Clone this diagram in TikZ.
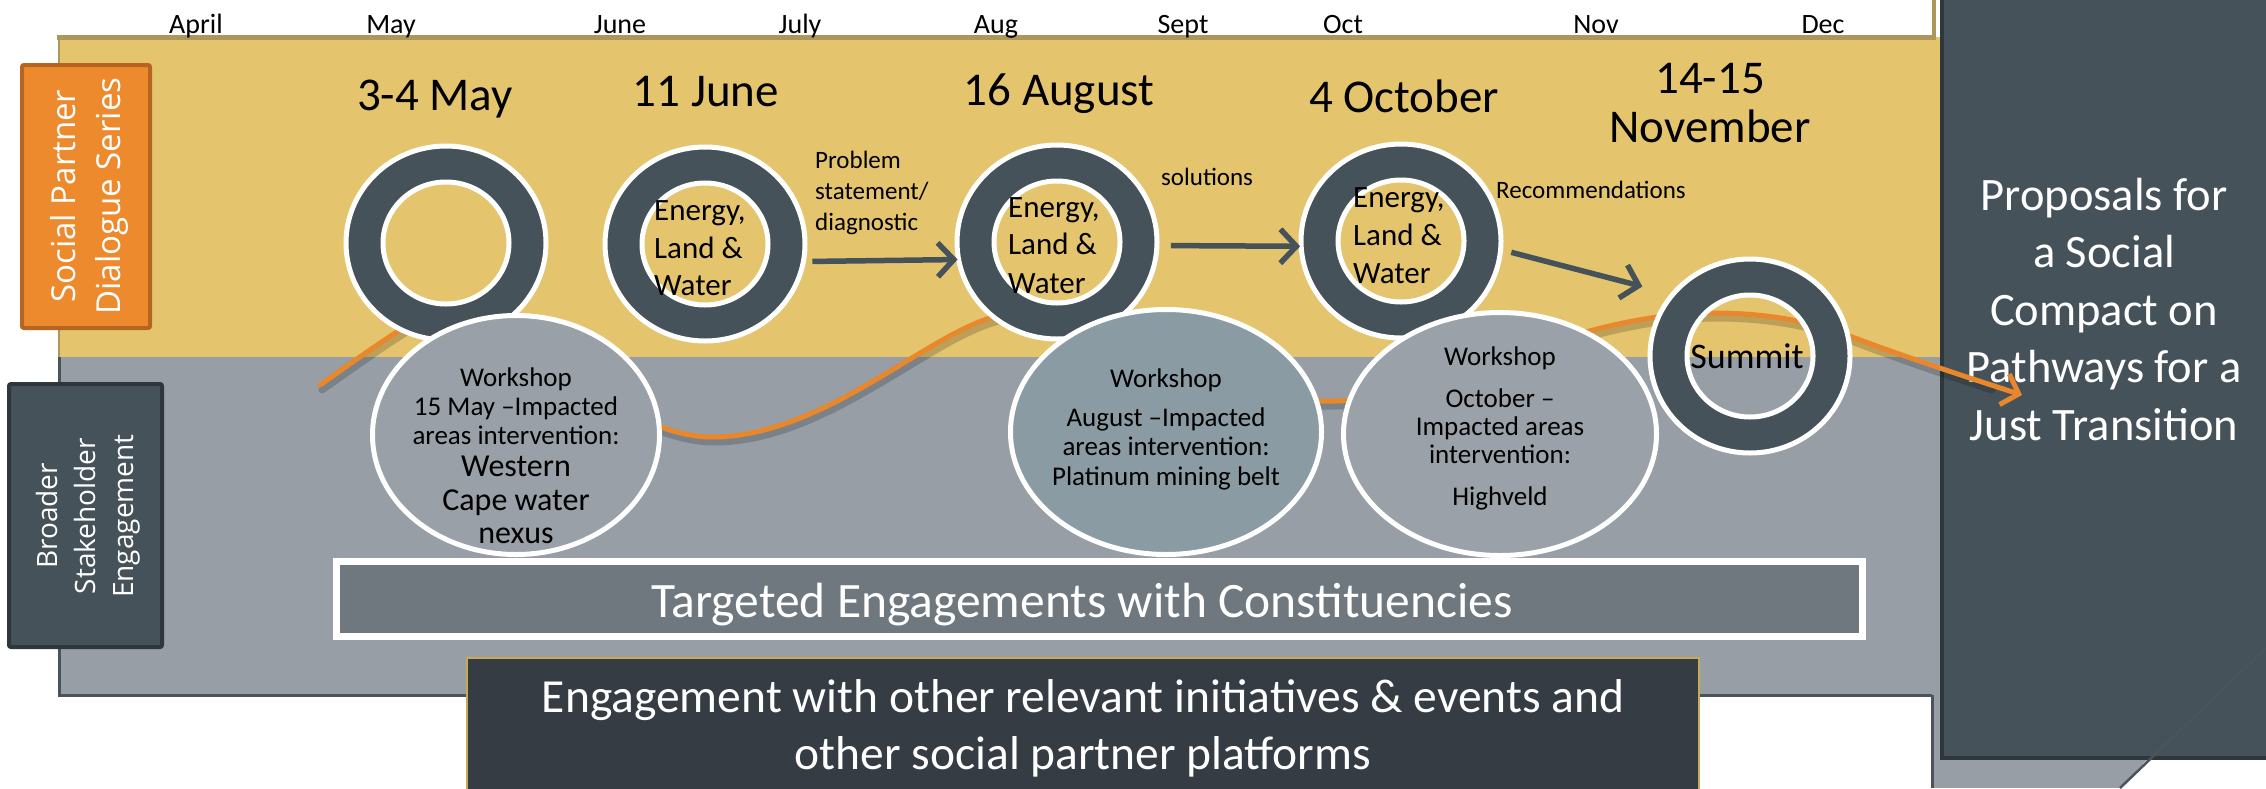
\documentclass[tikz,border=0pt]{standalone}
\usepackage{fontspec}
\setmainfont{Carlito}
\newfontfamily\osans{Open Sans}
\usetikzlibrary{arrows.meta,shapes.geometric}
\definecolor{yel}{HTML}{E5C46E}
\definecolor{tanb}{HTML}{AD965A}
\definecolor{gpanel}{HTML}{979EA6}
\definecolor{gborder}{HTML}{4B545A}
\definecolor{slate}{HTML}{465259}
\definecolor{slatedark}{HTML}{2F373C}
\definecolor{ellA}{HTML}{99A0A8}
\definecolor{ellB}{HTML}{8A9BA3}
\definecolor{ellC}{HTML}{9AA1A9}
\definecolor{tgt}{HTML}{6E787E}
\definecolor{bbox}{HTML}{353C43}
\definecolor{bboxb}{HTML}{C8A955}
\definecolor{orng}{HTML}{E8872B}
\definecolor{obox}{HTML}{EE8A2E}
\definecolor{oboxb}{HTML}{B5651F}
\newcommand\fsz[1]{\fontsize{#1}{#1}\selectfont}
\newcommand\ringdraw[1]{%
  \fill[slate, even odd rule] (#1.center) ellipse [x radius=100pt, y radius=97pt]
        (#1.center) ellipse [x radius=63pt, y radius=61pt];
  \draw[white, line width=5pt] (#1.center) ellipse [x radius=100pt, y radius=97pt]
        (#1.center) ellipse [x radius=63pt, y radius=61pt];}
\begin{document}
\begin{tikzpicture}[x=1pt,y=-1pt,
  month/.style={anchor=base, font=\fsz{28}, text=black, inner sep=0pt},
  datelbl/.style={anchor=base, font=\fsz{47}, text=black, inner sep=0pt},
  ringnode/.style={circle, minimum size=202pt, inner sep=0pt, outer sep=0pt},
  ringtxt/.style={anchor=base west, font=\fsz{31}, text=black, inner sep=0pt},
  wsell/.style={ellipse, draw=white, line width=5pt, inner sep=0pt, outer sep=0pt},
  wstxt/.style={anchor=base, font=\fsz{27}, text=black, inner sep=0pt},
  wsbig/.style={anchor=base, font=\fsz{32}, text=black, inner sep=0pt},
  small/.style={anchor=base west, font=\fsz{25}, text=black, inner sep=0pt},
  darrow/.style={draw=slate, line width=5.5pt, -{Straight Barb[length=16pt,width=34pt]}},
  proptxt/.style={anchor=base, font=\fsz{46.5}, text=white, inner sep=0pt},
  bigtxt/.style={anchor=base, font=\fsz{47.5}, text=white, inner sep=0pt}]
\useasboundingbox (0,0) rectangle (2266,788);
\fill[white] (0,0) rectangle (2266,788);
% right gray strip
\fill[gpanel] (1932,357) rectangle (2266,788);
\draw[gborder, line width=3pt] (1932,695) -- (1932,788);
% month strip border
\draw[tanb, line width=4pt] (1934,0) -- (1934,37);
% yellow panel
\fill[yel] (59,37) rectangle (1940,357);
\draw[tanb, line width=5pt] (57,37) -- (1936,37);
\draw[tanb, line width=2.5pt] (59,37) -- (59,357);
% gray panel
\fill[gpanel] (59,357) rectangle (1940,695);
\draw[gborder, line width=3pt] (59,357) -- (59,695) -- (1932,695);
% months
\foreach \m/\x [count=\i] in {April/196, May/391, June/620, July/800, Aug/996, Sept/1183, Oct/1343, Nov/1596, Dec/1823}
  \node[month] (m\i) at (\x,33) {\m};
% right dark box
\fill[slate] (1940,0) rectangle (2266,760);
\draw[slatedark, line width=4pt] (1942,0) -- (1942,758) -- (2266,758);
\foreach \t/\y [count=\i] in {Proposals for/210, a Social/267, Compact on/325, Pathways for a/382, Just Transition/440}
  \node[proptxt] (p\i) at (2104,\y) {\t};
\fill[white] (2120,788) -- (2147,760) -- (2266,760) -- (2266,788) -- cycle;
\draw[gborder, line width=2.5pt] (2120,788) -- (2266,648);
% left labels
\node[draw=oboxb, fill=obox, line width=4pt, rounded corners=2pt, minimum width=128pt, minimum height=263pt, inner sep=0pt] (spbox) at (86,196.5) {};
\node[rotate=90, align=center, text=white, font=\osans\fontsize{33}{45}\selectfont] (spt) at (89,196) {Social Partner\\Dialogue Series};
\node[draw=slatedark, fill=slate, line width=4pt, rounded corners=2pt, minimum width=153pt, minimum height=263pt, inner sep=0pt] (bsbox) at (85.5,515.5) {};
\node[rotate=90, align=center, text=white, font=\osans\fontsize{28}{38}\selectfont] (bst) at (88,516) {Broader\\Stakeholder\\Engagement};
% orange curve
\coordinate (cs) at (320,385);
\coordinate (ce) at (2022,395);
\begin{scope}[transform canvas={shift={(2pt,-5pt)}}]
\draw[black, opacity=0.18, line width=7pt, line cap=round] (cs) .. controls (360,357) and (390,335) .. (420,318)
 .. controls (470,290) and (610,437) .. (712,437)
 .. controls (820,437) and (920,340) .. (990,318)
 .. controls (1030,305) and (1060,320) .. (1090,350)
 .. controls (1130,390) and (1250,402) .. (1335,401)
 .. controls (1450,400) and (1560,312) .. (1720,313)
 .. controls (1780,314) and (1820,325) .. (1852,337)
 .. controls (1900,355) and (1940,369) .. (1990,385);
\end{scope}
\draw[orng, line width=5pt, line cap=round, -{Straight Barb[length=15pt,width=32pt]}] (cs) .. controls (360,357) and (390,335) .. (420,318)
 .. controls (470,290) and (610,437) .. (712,437)
 .. controls (820,437) and (920,340) .. (990,318)
 .. controls (1030,305) and (1060,320) .. (1090,350)
 .. controls (1130,390) and (1250,402) .. (1335,401)
 .. controls (1450,400) and (1560,312) .. (1720,313)
 .. controls (1780,314) and (1820,325) .. (1852,337)
 .. controls (1900,355) and (1960,375) .. (ce);
% rings
\node[ringnode] (r1) at (446,243) {};
\node[ringnode] (r2) at (705,244) {};
\node[ringnode] (r3) at (1057,242) {};
\node[ringnode] (r4) at (1401,241) {};
\node[ringnode] (r5) at (1750,356) {};
\ringdraw{r1}\ringdraw{r2}\ringdraw{r3}\ringdraw{r4}
% workshop ellipses
\node[wsell, fill=ellA, minimum width=287pt, minimum height=239pt] (w1) at (516,435) {};
\node[wsell, fill=ellB, minimum width=311pt, minimum height=245pt] (w2) at (1166,432) {};
\node[wsell, fill=ellC, minimum width=313pt, minimum height=243pt] (w3) at (1500,434) {};
\ringdraw{r5}
% ellipse texts
\node[wstxt] (w1a) at (516,386) {Workshop};
\node[wstxt] (w1b) at (516,415) {15 May –Impacted};
\node[wstxt] (w1c) at (516,444) {areas intervention:};
\node[wsbig] (w1d) at (516,476) {Western};
\node[wsbig] (w1e) at (516,510) {Cape water};
\node[wsbig] (w1f) at (516,543) {nexus};
\node[wstxt] (w2a) at (1166,387) {Workshop};
\node[wstxt] (w2b) at (1166,426) {August –Impacted};
\node[wstxt] (w2c) at (1166,455) {areas intervention:};
\node[wstxt] (w2d) at (1166,485) {Platinum mining belt};
\node[wstxt] (w3a) at (1500,365) {Workshop};
\node[wstxt] (w3b) at (1500,407) {October –};
\node[wstxt] (w3c) at (1500,435) {Impacted areas};
\node[wstxt] (w3d) at (1500,463) {intervention:};
\node[wstxt] (w3e) at (1500,505) {Highveld};
% ring texts
\node[ringtxt] (r2a) at (654,220) {Energy,};
\node[ringtxt] (r2b) at (654,258) {Land \&};
\node[ringtxt] (r2c) at (654,295) {Water};
\node[ringtxt] (r3a) at (1008,217) {Energy,};
\node[ringtxt] (r3b) at (1008,254) {Land \&};
\node[ringtxt] (r3c) at (1008,293) {Water};
\node[ringtxt] (r4a) at (1353,207) {Energy,};
\node[ringtxt] (r4b) at (1353,245) {Land \&};
\node[ringtxt] (r4c) at (1353,283) {Water};
\node[anchor=base, font=\fsz{36}, inner sep=0pt] (r5a) at (1747,368) {Summit};
% date titles
\node[datelbl] (d1) at (435,110) {3-4 May};
\node[datelbl] (d2) at (706,106) {11 June};
\node[datelbl] (d3) at (1059,105) {16 August};
\node[datelbl] (d4) at (1404,112) {4 October};
\node[datelbl] (d5) at (1710,93) {14-15};
\node[datelbl] (d6) at (1710,142) {November};
% arrow labels
\node[small] (l1) at (815,168) {Problem};
\node[small] (l2) at (815,199) {statement/};
\node[small] (l3) at (815,230) {diagnostic};
\node[small] (l4) at (1161,185) {solutions};
\node[small] (l5) at (1496,198) {Recommendations};
% arrows
\draw[darrow, shorten <=8pt] (r2.-10) -- (r3.190);
\draw[darrow, shorten <=13pt] (r3.-2) -- (r4.183);
\draw[darrow, shorten <=10pt, shorten >=29pt] (r4.-5) -- (r5.142);
% targeted box
\node[draw=white, fill=tgt, line width=7pt, minimum width=1526pt, minimum height=75pt, inner sep=0pt] (tbox) at (1099.5,599) {};
\node[anchor=base, font=\fsz{49.5}, text=white, inner sep=0pt] (ttxt) at (1082,617) {Targeted Engagements with Constituencies};
% bottom box
\fill[bbox] (467,658) rectangle (1699,800);
\draw[bboxb, line width=2pt] (467,800) -- (467,658) -- (1699,658) -- (1699,800);
\node[bigtxt] (b1) at (1083,712) {Engagement with other relevant initiatives \& events and};
\node[bigtxt] (b2) at (1083,769) {other social partner platforms};
\end{tikzpicture}
\end{document}
